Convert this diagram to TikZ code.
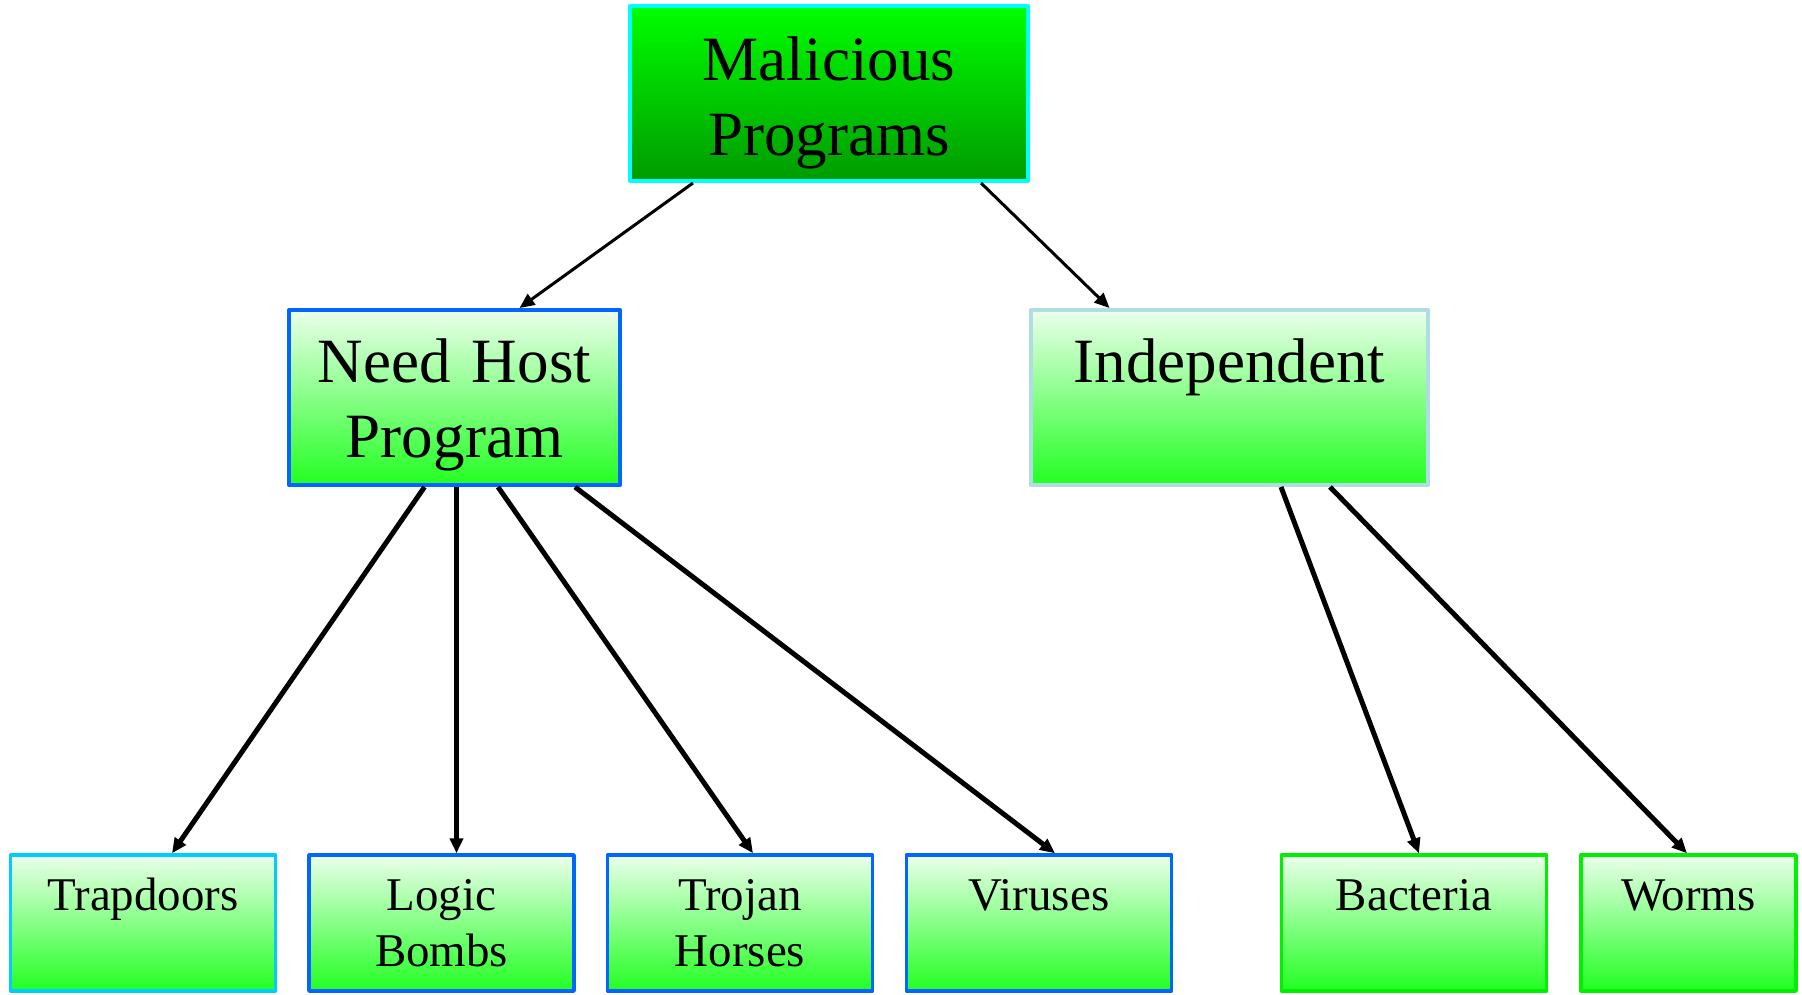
\documentclass[tikz,border=0pt]{standalone}
\usepackage{fontspec}
\setmainfont{Liberation Serif}
\usetikzlibrary{arrows.meta,calc}
\definecolor{topgreen}{HTML}{00FF00}
\definecolor{darkgreen}{HTML}{009A00}
\definecolor{palegreen}{HTML}{EBFFEB}
\definecolor{brightgreen}{HTML}{22FF22}
\definecolor{bordercyan}{HTML}{00FFFF}
\definecolor{borderblue}{HTML}{0066FF}
\definecolor{bordersky}{HTML}{00CCFF}
\definecolor{borderpowder}{HTML}{B0DDE3}
\definecolor{borderlime}{HTML}{00F000}
\newcommand{\midfont}{\fontsize{35.9}{43.2}\selectfont}
\newcommand{\leaffont}{\fontsize{26.7}{32.4}\selectfont}
\begin{document}
\begin{tikzpicture}[x=0.02cm,y=-0.02cm,line join=round,>={Triangle[length=0.3cm,width=0.26cm]},
  box/.style={draw,inner sep=0pt,align=center,top color=palegreen,bottom color=brightgreen,line width=0.08cm,font=\midfont},
  leaf/.style={box,line width=0.07cm,text width=5.3cm,text height=1.1cm,text depth=1.62cm,font=\leaffont},
  link/.style={->,line width=0.1cm}]
\useasboundingbox (0,0) rectangle (1802,994);
% top and middle boxes
\node[box,draw=bordercyan,top color=topgreen,bottom color=darkgreen,text width=7.96cm,text height=1.48cm,text depth=2.02cm] (mal) at (829,93.5) {Malicious\\Programs};
\node[box,draw=borderblue,text width=6.62cm,text height=1.44cm,text depth=2.06cm] (nh) at (454.5,397.5) {Need Host\\Program};
\node[box,draw=borderpowder,text width=7.94cm,text height=1.44cm,text depth=2.06cm] (ind) at (1229.5,397.5) {Independent};
% leaves
\foreach \n/\x/\w/\c/\t in {trap/143/5.3cm/bordersky/Trapdoors, logic/441.5/5.3cm/borderblue/{Logic\\Bombs}, trojan/740/5.3cm/borderblue/{Trojan\\Horses}, viruses/1039/5.3cm/borderblue/Viruses, bact/1414/5.3cm/borderlime/Bacteria, worms/1688.5/4.3cm/borderlime/Worms}
  \node[leaf,draw=\c,text width=\w] (\n) at (\x,923) {\t};
% connectors
\draw[link,line width=0.06cm] ($(mal.south)+(-136,0)$) -- ($(nh.north)+(65,0)$);
\draw[link,line width=0.06cm] ($(mal.south)+(152,0)$) -- ($(ind.north)+(-120,0)$);
\draw[link] ($(nh.south)+(-30,0)$) -- ($(trap.north)+(29,0)$);
\draw[link] ($(nh.south)+(2,0)$) -- ($(logic.north)+(15,0)$);
\draw[link] ($(nh.south)+(43.5,0)$) -- ($(trojan.north)+(13,0)$);
\draw[link] ($(nh.south)+(120.5,0)$) -- ($(viruses.north)+(16,0)$);
\draw[link] ($(ind.south)+(51.5,0)$) -- ($(bact.north)+(5,0)$);
\draw[link] ($(ind.south)+(100.5,0)$) -- ($(worms.north)+(-1.5,0)$);
\end{tikzpicture}
\end{document}
